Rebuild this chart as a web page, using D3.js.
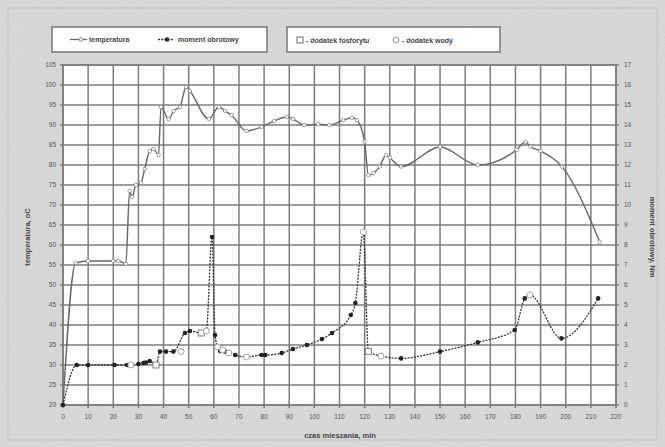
<!DOCTYPE html>
<html><head><meta charset="utf-8">
<script src="https://cdn.jsdelivr.net/npm/d3@7/dist/d3.min.js"></script>
<style>body{margin:0;background:#d8d8d8}svg{display:block}</style>
</head><body>
<svg id="c" width="665" height="447"></svg>
<script>
// time (min) and temperature (°C)
const tempTime = [0,5,10,20,22,25,26.5,27.5,29,31,32.5,34.5,36,38,39,42,44,46.5,49,50.5,58,62,64.5,67,73,79,84,89,91.5,96,101.5,106,111.5,115,117,120,121.5,123.5,126,128.5,130,134.5,150,165,180.5,184,186,190,198.5,213.5];
const tempVal  = [20,55.5,56,56,56,55.3,73.5,72,75,75.5,79,83.5,84,82.5,94.5,91.5,93.5,94.5,99.5,98.5,91.5,94.5,93.5,92.5,88.5,89.5,91,92,91.5,90,90.2,90,91.2,91.8,91.2,85.8,77.5,78,79.6,82.5,81.8,79.6,84.5,80,83.8,85.8,84.6,83.5,79.6,60.8];
// time (min) and torque (Nm)
const momTime = [0,5.5,10,20.5,25.5,30,32,33,34.5,37,38.6,41,43.9,48.5,50.5,55,57,59.3,60.5,61.5,62.5,64.5,68.5,73,79,80.5,87,91.5,97,103,107,114.5,116.3,119.5,121.5,126.5,134.5,150,165,179.7,183.7,185.7,198.3,212.9];
const momVal  = [0,2,2,2,2,2.05,2.1,2.12,2.2,2.0,2.67,2.67,2.67,3.6,3.7,3.6,3.7,8.4,3.5,2.9,2.7,2.67,2.5,2.4,2.5,2.5,2.6,2.8,3.0,3.3,3.6,4.5,5.1,8.65,2.67,2.45,2.33,2.67,3.13,3.75,5.33,5.5,3.33,5.33];
// additions (on torque curve)
const phosTime = [37, 55, 121.5];
const phosVal  = [2.0, 3.6, 2.67];
const waterTime = [27, 47, 57, 61.5, 63.5, 66, 73, 119.5, 126.5, 185.7];
const waterVal  = [2.0, 2.67, 3.7, 2.9, 2.75, 2.6, 2.4, 8.65, 2.45, 5.5];
const xTicks = d3.range(0, 221, 10);
const yTicks = d3.range(20, 106, 5);
const y2Ticks = d3.range(0, 18, 1);

const svg = d3.select("#c");
const defs = svg.append("defs");
const f = defs.append("filter").attr("id","noise").attr("x",0).attr("y",0).attr("width","100%").attr("height","100%");
f.append("feTurbulence").attr("type","fractalNoise").attr("baseFrequency",0.9).attr("numOctaves",2).attr("seed",4);
f.append("feColorMatrix").attr("type","saturate").attr("values",0);
svg.append("rect").attr("width",665).attr("height",447).attr("fill","#d9d9d9");
svg.append("rect").attr("width",665).attr("height",447).attr("filter","url(#noise)").attr("opacity",0.18);
svg.append("rect").attr("x",8).attr("y",8).attr("width",649).attr("height",432).attr("fill","none").attr("stroke","#c4c4c4").attr("stroke-width",1);

const L=63,R=616,T=65,B=405;
const x = d3.scaleLinear().domain([0,220]).range([L,R]);
const y = d3.scaleLinear().domain([20,105]).range([B,T]);
const y2 = d3.scaleLinear().domain([0,17]).range([B,T]);

svg.append("rect").attr("x",L).attr("y",T).attr("width",R-L).attr("height",B-T).attr("fill","#fff");
const grid = svg.append("g").attr("stroke","#7c7c7c").attr("stroke-width",1.5);
xTicks.forEach(t=>grid.append("line").attr("x1",x(t)).attr("x2",x(t)).attr("y1",T).attr("y2",B+3));
yTicks.forEach(t=>grid.append("line").attr("x1",L-3).attr("x2",R+3).attr("y1",y(t)).attr("y2",y(t)));
svg.append("rect").attr("x",L).attr("y",T).attr("width",R-L).attr("height",B-T).attr("fill","none").attr("stroke","#7c7c7c").attr("stroke-width",1.5);

const font = "Liberation Sans, Arial, sans-serif";
const ax = svg.append("g").attr("font-family",font).attr("font-size",6.5).attr("fill","#555");
xTicks.forEach(t=>ax.append("text").attr("x",x(t)).attr("y",B+14).attr("text-anchor","middle").text(t));
yTicks.forEach(t=>ax.append("text").attr("x",L-7).attr("y",y(t)+2.3).attr("text-anchor","end").text(t));
y2Ticks.forEach(t=>ax.append("text").attr("x",R+8).attr("y",y2(t)+2.3).attr("text-anchor","start").text(t));

svg.append("text").attr("x",340).attr("y",438).attr("text-anchor","middle").attr("font-family",font).attr("font-size",7.5).attr("font-weight","bold").attr("fill","#444").text("czas mieszania, min");
svg.append("text").attr("transform","translate(30,237) rotate(-90)").attr("text-anchor","middle").attr("font-family",font).attr("font-size",7.5).attr("font-weight","bold").attr("fill","#444").text("temperatura, oC");
svg.append("text").attr("transform","translate(650,237) rotate(90)").attr("text-anchor","middle").attr("font-family",font).attr("font-size",7.5).attr("font-weight","bold").attr("fill","#444").text("moment obrotowy, Nm");

const line = d3.line().curve(d3.curveMonotoneX);
const tp = tempTime.map((t,i)=>[x(t),y(tempVal[i])]);
const mp = momTime.map((t,i)=>[x(t),y2(momVal[i])]);
svg.append("path").attr("d",line(tp)).attr("fill","none").attr("stroke","#666").attr("stroke-width",1.4);
svg.append("path").attr("d",line(mp)).attr("fill","none").attr("stroke","#333").attr("stroke-width",1.3).attr("stroke-dasharray","2,1.2");
svg.append("g").selectAll("circle").data(tp).join("circle").attr("cx",d=>d[0]).attr("cy",d=>d[1]).attr("r",1.8).attr("fill","#fff").attr("stroke","#888").attr("stroke-width",0.8);
svg.append("g").selectAll("circle").data(mp).join("circle").attr("cx",d=>d[0]).attr("cy",d=>d[1]).attr("r",2.3).attr("fill","#222");
svg.append("g").selectAll("rect").data(phosTime.map((t,i)=>[x(t),y2(phosVal[i])])).join("rect").attr("x",d=>d[0]-3).attr("y",d=>d[1]-3).attr("width",6).attr("height",6).attr("fill","#fff").attr("stroke","#777").attr("stroke-width",0.9);
svg.append("g").selectAll("circle").data(waterTime.map((t,i)=>[x(t),y2(waterVal[i])])).join("circle").attr("cx",d=>d[0]).attr("cy",d=>d[1]).attr("r",3).attr("fill","#fff").attr("stroke","#999").attr("stroke-width",0.9);

// legends
const lg = svg.append("g").attr("font-family",font).attr("font-size",7).attr("font-weight","bold").attr("fill","#444");
lg.append("rect").attr("x",52).attr("y",27).attr("width",215).attr("height",25).attr("fill","#fff").attr("stroke","#777").attr("stroke-width",1.5);
lg.append("line").attr("x1",70).attr("x2",87).attr("y1",39.5).attr("y2",39.5).attr("stroke","#666").attr("stroke-width",1.3);
lg.append("circle").attr("cx",81).attr("cy",39.5).attr("r",1.8).attr("fill","#fff").attr("stroke","#888");
lg.append("text").attr("x",89).attr("y",42).text("temperatura");
lg.append("line").attr("x1",158).attr("x2",173).attr("y1",39.5).attr("y2",39.5).attr("stroke","#333").attr("stroke-width",1.3).attr("stroke-dasharray","2,1.2");
lg.append("circle").attr("cx",167).attr("cy",39.5).attr("r",2.3).attr("fill","#222");
lg.append("text").attr("x",178).attr("y",42).text("moment obrotowy");
lg.append("rect").attr("x",287).attr("y",27).attr("width",213).attr("height",25).attr("fill","#fff").attr("stroke","#777").attr("stroke-width",1.5);
lg.append("rect").attr("x",297).attr("y",37).attr("width",6).attr("height",6).attr("fill","#fff").attr("stroke","#666");
lg.append("text").attr("x",306).attr("y",42.5).text("- dodatek fosforytu");
lg.append("circle").attr("cx",396).attr("cy",40).attr("r",3).attr("fill","#fff").attr("stroke","#999");
lg.append("text").attr("x",402).attr("y",42.5).text("- dodatek wody");
</script>
</body></html>
